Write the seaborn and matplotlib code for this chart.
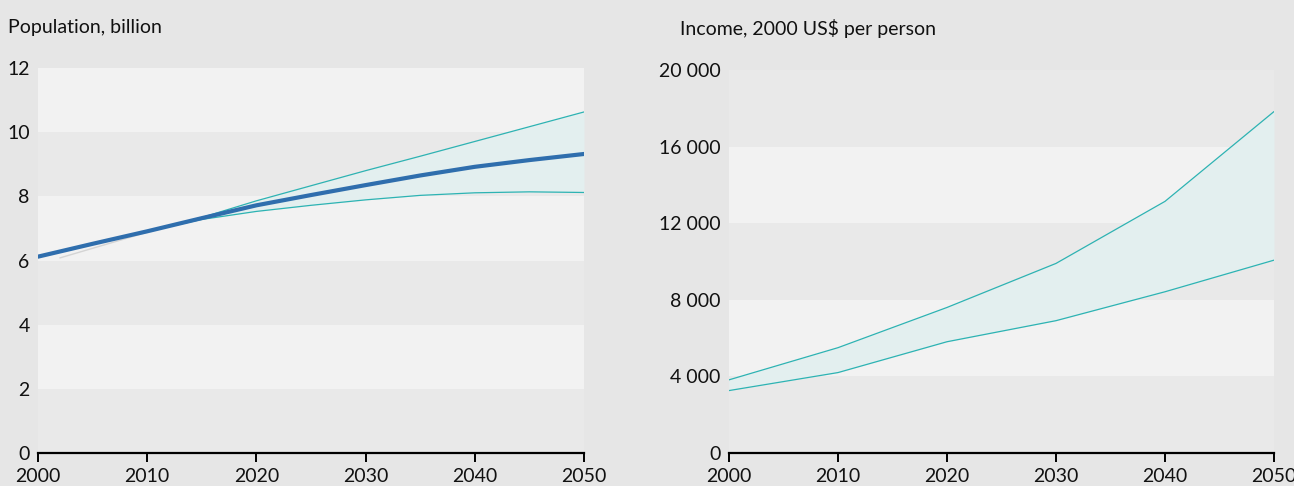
import numpy as np
import pandas as pd
import matplotlib
matplotlib.use("Agg")
import matplotlib.pyplot as plt
import seaborn as sns

# population, billion (every 5 years)
pop_years = [2000, 2005, 2010, 2015, 2020, 2025, 2030, 2035, 2040, 2045, 2050]
pop_mid = [6.12, 6.52, 6.91, 7.32, 7.72, 8.04, 8.35, 8.65, 8.92, 9.13, 9.32]
pop_high = [6.12, 6.52, 6.91, 7.34, 7.86, 8.33, 8.80, 9.25, 9.71, 10.17, 10.63]
pop_low = [6.12, 6.52, 6.91, 7.28, 7.53, 7.72, 7.89, 8.03, 8.11, 8.14, 8.12]
hist_years = [2002, 2010]
hist_vals = [6.08, 6.88]

# income, 2000 US$ per person
inc_years = [2000, 2010, 2020, 2030, 2040, 2050]
inc_high = [3820, 5500, 7600, 9900, 13140, 17830]
inc_low = [3260, 4200, 5810, 6910, 8420, 10070]

pop_ticks = [0, 2, 4, 6, 8, 10, 12]
inc_ticks = [0, 4000, 8000, 12000, 16000, 20000]
inc_labels = ["0", "4 000", "8 000", "12 000", "16 000", "20 000"]
year_ticks = [2000, 2010, 2020, 2030, 2040, 2050]

FIG_BG = "#e6e6e6"
BAND_LIGHT = "#f2f2f2"
BAND_DARK = "#e9e9e9"
TEAL = "#2db3b3"
FILL = "#e3efef"
BLUE = "#2f6ead"

sns.set_style("white")
plt.rcParams["font.family"] = ["Lato", "DejaVu Sans"]
plt.rcParams["font.size"] = 14

fig = plt.figure(figsize=(12.94, 4.86), dpi=100, facecolor=FIG_BG)
ax1 = fig.add_axes([38 / 1294, 33 / 486, 546 / 1294, 385 / 486])
ax2 = fig.add_axes([729 / 1294, 33 / 486, 545 / 1294, 383 / 486])


def style_axis(ax, ticks, labels, top):
    ax.set_facecolor(FIG_BG)
    # alternating horizontal bands, darker band at the bottom
    for i in range(len(ticks) - 1):
        col = BAND_DARK if i % 2 == 0 else BAND_LIGHT
        ax.axhspan(ticks[i], ticks[i + 1], color=col, lw=0, zorder=0)
    ax.set_xlim(2000, 2050)
    ax.set_ylim(0, top)
    ax.set_xticks(year_ticks)
    ax.set_xticklabels([str(y) for y in year_ticks])
    ax.set_yticks(ticks)
    ax.set_yticklabels(labels)
    for s in ["top", "right", "left"]:
        ax.spines[s].set_visible(False)
    ax.spines["bottom"].set_color("black")
    ax.spines["bottom"].set_linewidth(1.6)
    ax.tick_params(axis="x", bottom=True, direction="out", length=6.5, width=1.4,
                   color="black", pad=4.5, labelsize=14, labelcolor="#111111")
    ax.tick_params(axis="y", left=False, length=0, pad=6, labelsize=14,
                   labelcolor="#111111")
    ax.set_xlabel("")
    ax.set_ylabel("")
    ax.grid(False)


# left: population
style_axis(ax1, pop_ticks, [str(t) for t in pop_ticks], 12)
ax1.fill_between(pop_years, pop_low, pop_high, color=FILL, lw=0, zorder=1)
sns.lineplot(x=hist_years, y=hist_vals, ax=ax1, color="#d4d4d4", lw=1.0, zorder=2)
sns.lineplot(x=pop_years, y=pop_high, ax=ax1, color=TEAL, lw=0.9, zorder=3)
sns.lineplot(x=pop_years, y=pop_low, ax=ax1, color=TEAL, lw=0.9, zorder=3)
sns.lineplot(x=pop_years, y=pop_mid, ax=ax1, color=BLUE, lw=3.0, zorder=4,
             solid_capstyle="round")
ax1.set_ylim(0, 12)

# right: income
style_axis(ax2, inc_ticks, inc_labels, 20000)
ax2.fill_between(inc_years, inc_low, inc_high, color=FILL, lw=0, zorder=1)
sns.lineplot(x=inc_years, y=inc_high, ax=ax2, color=TEAL, lw=0.9, zorder=3)
sns.lineplot(x=inc_years, y=inc_low, ax=ax2, color=TEAL, lw=0.9, zorder=3)
ax2.set_ylim(0, 20000)

fig.text(8 / 1294, 1 - 27 / 486, "Population, billion", fontsize=14,
         ha="left", va="center", color="#111111")
fig.text(680 / 1294, 1 - 29 / 486, "Income, 2000 US$ per person", fontsize=14,
         ha="left", va="center", color="#111111")

fig.savefig("out.png", dpi=100, facecolor=FIG_BG)
